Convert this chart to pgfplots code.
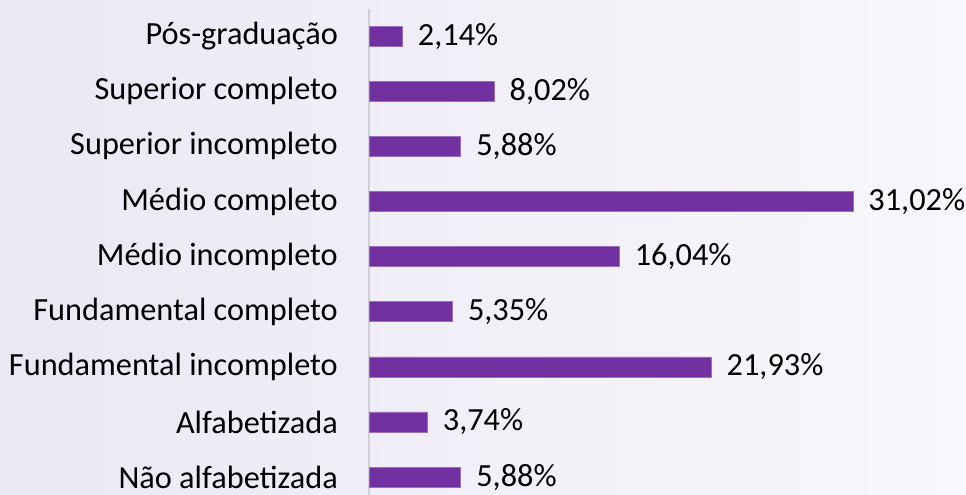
\documentclass[border=0pt]{standalone}
\usepackage{fontspec}
\setmainfont{Carlito}
\usepackage{pgfplots}
\pgfplotsset{compat=1.18}
\definecolor{barpurple}{RGB}{112,48,160}
\definecolor{bgleft}{RGB}{234,232,243}
\definecolor{bgright}{RGB}{248,247,251}
\definecolor{axisgray}{RGB}{208,206,214}
\begin{document}
\begin{tikzpicture}[x=1bp,y=1bp]
\useasboundingbox (0,0) rectangle (966,495);
\shade[left color=bgleft, right color=bgright] (0,0) rectangle (966,495);
\begin{axis}[
  at={(369bp,-9.6bp)}, anchor=south west,
  scale only axis,
  width=592.8bp, height=496bp,
  xmin=0, xmax=38,
  ymin=-0.5, ymax=8.5,
  xbar, bar width=20bp,
  axis x line=none,
  axis y line*=left,
  y axis line style={draw=axisgray, line width=1.2bp},
  ytick={0,...,8},
  yticklabels={Não alfabetizada, Alfabetizada, Fundamental incompleto, Fundamental completo, Médio incompleto, Médio completo, Superior incompleto, Superior completo, Pós-graduação},
  major tick length=0pt,
  yticklabel style={font=\fontsize{32.3bp}{38bp}\selectfont, anchor=east, xshift=-31bp, inner sep=0pt},
  point meta=explicit symbolic,
  nodes near coords,
  every node near coord/.append style={font=\fontsize{32.3bp}{38bp}\selectfont, anchor=west, xshift=12bp, black},
  clip=false,
]
\addplot[fill=barpurple, draw=barpurple!70!white, line width=0.5bp] coordinates {
  (5.88,0) [5,88\%]
  (3.74,1) [3,74\%]
  (21.93,2) [21,93\%]
  (5.35,3) [5,35\%]
  (16.04,4) [16,04\%]
  (31.02,5) [31,02\%]
  (5.88,6) [5,88\%]
  (8.02,7) [8,02\%]
  (2.14,8) [2,14\%]
};
\end{axis}
\end{tikzpicture}
\end{document}
